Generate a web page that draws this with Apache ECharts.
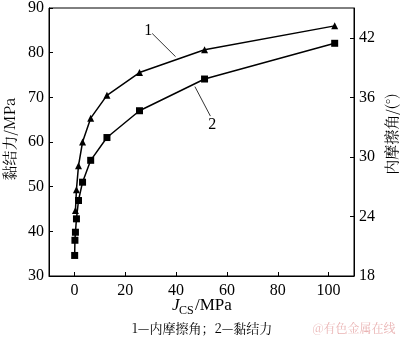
<!DOCTYPE html>
<html>
<head>
<meta charset="utf-8">
<script src="https://cdn.jsdelivr.net/npm/echarts@6/dist/echarts.min.js"></script>
<style>
  html, body { margin: 0; padding: 0; background: #fff; }
  #chart { width: 400px; height: 345px; }
</style>
</head>
<body>
<div id="chart"></div>
<script>
// JCS values (MPa) for each test point
const jcsCohesion = [0.1, 0.2, 0.4, 0.8, 1.6, 3.2, 6.4, 12.8, 25.6, 51.2, 102.4];
const cohesion = [34.6, 38.0, 39.8, 42.8, 46.9, 51.0, 55.9, 61.0, 67.0, 74.1, 82.1];

const jcsFriction = [0.4, 0.8, 1.6, 3.2, 6.4, 12.8, 25.6, 51.2, 102.4];
const frictionAngle = [24.6, 26.7, 29.1, 31.5, 33.9, 36.2, 38.5, 40.8, 43.2];

// Tick values
const xTicks = [0, 20, 40, 60, 80, 100];
const leftTicks = [30, 40, 50, 60, 70, 80, 90];
const rightTicks = [18, 24, 30, 36, 42];

const serif = '"Liberation Serif", "Times New Roman", serif';
const cjk = '"Noto Serif CJK SC", "Noto Sans CJK SC", sans-serif';

const chart = echarts.init(document.getElementById('chart'), null, { renderer: 'canvas' });

const axisLine = { show: true, onZero: false, lineStyle: { color: '#000', width: 1 } };
const axisTickBase = { show: true, inside: true, length: 4, lineStyle: { color: '#000', width: 1 } };
const labelBase = { color: '#000', fontFamily: serif, fontSize: 16 };

chart.setOption({
  animation: false,
  backgroundColor: '#fff',
  grid: {
    left: 49, right: 46, top: 6, bottom: 69,
    show: true, borderColor: '#000', borderWidth: 1, backgroundColor: 'transparent'
  },
  xAxis: {
    type: 'value', min: -10, max: 110,
    axisLine: axisLine,
    axisTick: Object.assign({}, axisTickBase, { customValues: xTicks }),
    axisLabel: Object.assign({}, labelBase, { customValues: xTicks, margin: 7 }),
    splitLine: { show: false }
  },
  yAxis: [
    {
      type: 'value', min: 30, max: 90, position: 'left',
      axisLine: axisLine,
      axisTick: Object.assign({}, axisTickBase, { customValues: leftTicks }),
      axisLabel: Object.assign({}, labelBase, { customValues: leftTicks, margin: 5 }),
      splitLine: { show: false }
    },
    {
      type: 'value', min: 18, max: 45, position: 'right',
      axisLine: axisLine,
      axisTick: Object.assign({}, axisTickBase, { customValues: rightTicks }),
      axisLabel: Object.assign({}, labelBase, { customValues: rightTicks, margin: 5 }),
      splitLine: { show: false }
    }
  ],
  series: [
    {
      name: '内摩擦角',
      type: 'line',
      yAxisIndex: 1,
      data: jcsFriction.map((x, i) => [x, frictionAngle[i]]),
      symbol: 'triangle', symbolSize: 7, showAllSymbol: true,
      lineStyle: { color: '#000', width: 1.5 },
      itemStyle: { color: '#000' }
    },
    {
      name: '黏结力',
      type: 'line',
      yAxisIndex: 0,
      data: jcsCohesion.map((x, i) => [x, cohesion[i]]),
      symbol: 'rect', symbolSize: 7, showAllSymbol: true,
      lineStyle: { color: '#000', width: 1.5 },
      itemStyle: { color: '#000' }
    }
  ]
});

// Curve labels with leader lines, placed in data space (JCS, cohesion)
const leaders = [
  { text: '1', at: [29.0, 85.0], from: [30.6, 84.3], to: [39.8, 79.1] },
  { text: '2', at: [54.2, 63.8], from: [47.4, 72.4], to: [53.5, 65.8] }
];

const toPx = (p) => chart.convertToPixel({ xAxisIndex: 0, yAxisIndex: 0 }, p);

const graphics = [];
leaders.forEach((l) => {
  const a = toPx(l.from), b = toPx(l.to), t = toPx(l.at);
  graphics.push({
    type: 'line', silent: true,
    shape: { x1: a[0], y1: a[1], x2: b[0], y2: b[1] },
    style: { stroke: '#000', lineWidth: 0.8 }
  });
  graphics.push({
    type: 'text', silent: true, x: t[0], y: t[1],
    style: { text: l.text, font: '16px ' + serif, fill: '#000', align: 'center', verticalAlign: 'middle' }
  });
});

// Axis titles
graphics.push({
  type: 'text', silent: true, x: 9, y: 139, rotation: Math.PI / 2,
  style: { text: '黏结力/MPa', font: '15px ' + cjk, fill: '#000', align: 'center', verticalAlign: 'middle' }
});
graphics.push({
  type: 'text', silent: true, x: 391, y: 134, rotation: Math.PI / 2,
  style: { text: '内摩擦角/(°)', font: '15px ' + cjk, fill: '#000', align: 'center', verticalAlign: 'middle' }
});

// x-axis title: J (italic) with subscript CS, then /MPa
graphics.push({
  type: 'group', silent: true, x: 172, y: 306,
  children: [
    { type: 'text', x: 0, y: 0, style: { text: 'J', font: 'italic 17px ' + serif, fill: '#000', verticalAlign: 'middle' } },
    { type: 'text', x: 7, y: 5, style: { text: 'CS', font: '12px ' + serif, fill: '#000', verticalAlign: 'middle' } },
    { type: 'text', x: 23, y: 0, style: { text: '/MPa', font: '17px ' + serif, fill: '#000', verticalAlign: 'middle' } }
  ]
});

// Caption and credit line
graphics.push({
  type: 'text', silent: true, x: 202, y: 328,
  style: { text: '1—内摩擦角；2—黏结力', font: '13px ' + cjk, fill: '#000', align: 'center', verticalAlign: 'middle' }
});
graphics.push({
  type: 'text', silent: true, x: 354, y: 328,
  style: { text: '@有色金属在线', font: '12px ' + cjk, fill: '#eab4b4', align: 'center', verticalAlign: 'middle' }
});

chart.setOption({ graphic: graphics });
</script>
</body>
</html>
